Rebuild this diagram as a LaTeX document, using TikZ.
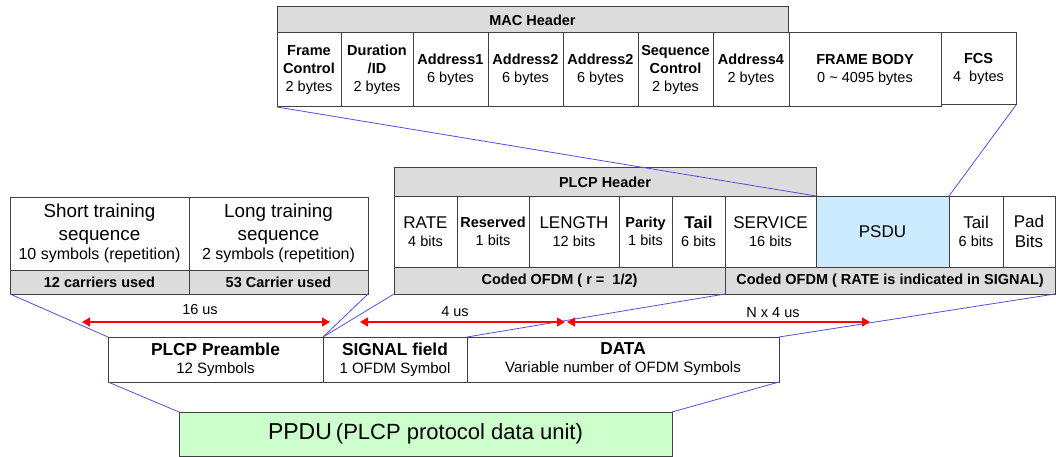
\documentclass[tikz,border=0pt]{standalone}
\usepackage{fontspec}
\setmainfont{Liberation Sans}
\usetikzlibrary{arrows.meta}
\definecolor{hdrgray}{HTML}{DCDCDC}
\definecolor{psdublue}{HTML}{CCEBFF}
\definecolor{ppdugreen}{HTML}{CCFFCC}
\definecolor{linkblue}{HTML}{5050E0}
\definecolor{edgegray}{HTML}{404040}
\begin{document}
\begin{tikzpicture}[x=1pt, y=-1pt, cell/.style = {draw=edgegray, line width=1, rectangle, anchor=north west, inner sep=0, outer sep=0, align=center, font=\fontsize{14.5}{18}\selectfont}, bar/.style = {cell, fill=hdrgray, font=\fontsize{14.5}{18}\selectfont\bfseries}, link/.style = {draw=linkblue, line width=0.8}, span/.style = {draw=red, line width=1.2, >={Triangle[length=8pt,width=9pt]}, <->}, timing/.style = {inner sep=0, font=\fontsize{14.5}{18}\selectfont}]
  \useasboundingbox (0,0) rectangle (1056,457);
  \node[bar, minimum width=511, minimum height=26] at (277,7) (mac-header) {MAC Header};
  \node[cell, minimum width=64, minimum height=74] at (277,33) (frame-control) {\textbf{Frame}\\\textbf{Control}\\2 bytes};
  \node[cell, minimum width=72, minimum height=74] at (341,33) (duration) {\textbf{Duration}\\\textbf{/ID}\\2 bytes};
  \node[cell, minimum width=75, minimum height=74] at (413,33) (address-1) {\textbf{Address1}\\6 bytes};
  \node[cell, minimum width=75, minimum height=74] at (488,33) (address-2) {\textbf{Address2}\\6 bytes};
  \node[cell, minimum width=75, minimum height=74] at (563,33) (address-3) {\textbf{Address2}\\6 bytes};
  \node[cell, minimum width=75, minimum height=74] at (638,33) (sequence) {\textbf{Sequence}\\\textbf{Control}\\2 bytes};
  \node[cell, minimum width=76, minimum height=74] at (713,33) (address-4) {\textbf{Address4}\\2 bytes};
  \node[cell, minimum width=152, minimum height=74] at (789,33) (frame-body) {\textbf{FRAME BODY}\\0 \textasciitilde{} 4095 bytes};
  \node[cell, minimum width=75, minimum height=72] at (941,33) (fcs) {\textbf{FCS}\\4~~bytes};
  \node[bar, minimum width=422, minimum height=28] at (394,168) (plcp-header) {PLCP Header};
  \node[cell, minimum width=63, minimum height=71] at (394,196) (rate) {{\fontsize{17}{20}\selectfont RATE}\\4 bits};
  \node[cell, minimum width=72, minimum height=71] at (457,196) (reserved) {\textbf{Reserved}\\1 bits};
  \node[cell, minimum width=90, minimum height=71] at (529,196) (length) {{\fontsize{17}{20}\selectfont LENGTH}\\12 bits};
  \node[cell, minimum width=53, minimum height=71] at (619,196) (parity) {\textbf{Parity}\\1 bits};
  \node[cell, minimum width=53, minimum height=71] at (672,196) (tail) {{\fontsize{17}{20}\selectfont\bfseries Tail}\\6 bits};
  \node[cell, minimum width=91, minimum height=71] at (725,196) (service) {{\fontsize{17}{20}\selectfont SERVICE}\\16 bits};
  \node[cell, fill=psdublue, minimum width=133, minimum height=71, font=\fontsize{17}{20}\selectfont] at (816,196) (psdu) {PSDU};
  \node[cell, minimum width=54, minimum height=71] at (949,196) (tail-2) {{\fontsize{17}{20}\selectfont Tail}\\6 bits};
  \node[cell, minimum width=52, minimum height=71, font=\fontsize{17}{20}\selectfont] at (1003,196) (pad) {Pad\\Bits};
  \node[bar, minimum width=331, minimum height=27] at (394,267) (coded-signal) {Coded OFDM ( r =~~1/2)};
  \node[bar, minimum width=330, minimum height=27] at (725,267) (coded-data) {Coded OFDM ( RATE is indicated in SIGNAL)};
  \node[cell, minimum width=179, minimum height=73, font=\fontsize{18.8}{23}\selectfont] at (10,197) (short) {Short training\\sequence\\[-4pt]{\fontsize{16}{18}\selectfont 10 symbols (repetition)}};
  \node[cell, minimum width=179, minimum height=73, font=\fontsize{18.8}{23}\selectfont] at (189,197) (long) {Long training\\sequence\\[-4pt]{\fontsize{16}{18}\selectfont 2 symbols (repetition)}};
  \node[bar, minimum width=179, minimum height=24] at (10,270) (carriers-12) {12 carriers used};
  \node[bar, minimum width=179, minimum height=24] at (189,270) (carriers-53) {53 Carrier used};
  \node[cell, minimum width=215, minimum height=45, font=\fontsize{15}{18}\selectfont] at (108,337) (preamble) {{\fontsize{17.3}{19}\selectfont\bfseries PLCP Preamble}\\12 Symbols};
  \node[cell, minimum width=144, minimum height=45, font=\fontsize{15}{18}\selectfont] at (323,337) (signal) {{\fontsize{17.3}{19}\selectfont\bfseries SIGNAL field}\\1 OFDM Symbol};
  \node[cell, minimum width=312, minimum height=45, font=\fontsize{15}{18}\selectfont] at (467,337) (data) {{\fontsize{17.3}{19}\selectfont\bfseries DATA}\\Variable number of OFDM Symbols};
  \node[cell, fill=ppdugreen, minimum width=493, minimum height=44] at (179,412) (ppdu) {{\fontsize{23}{26}\selectfont PPDU} {\fontsize{22}{26}\selectfont (PLCP protocol data unit)}};
  \draw[link] (frame-control.south west) -- (psdu.north west);
  \draw[link] (fcs.south east) -- (psdu.north east);
  \draw[link] (carriers-12.south west) -- (preamble.north west);
  \draw[link] (carriers-53.south east) -- (preamble.north east);
  \draw[link] (coded-signal.south west) -- (signal.north west);
  \draw[link] (coded-signal.south east) -- (signal.north east);
  \draw[link] (coded-data.south east) -- (data.north east);
  \draw[link] (preamble.south west) -- (ppdu.north west);
  \draw[link] (data.south east) -- (ppdu.north east);
  \coordinate (preamble-start) at (82,322);
  \coordinate (preamble-end) at (330,322);
  \coordinate (signal-start) at (360,322);
  \coordinate (signal-end) at (565,322);
  \coordinate (data-start) at (567,322);
  \coordinate (data-end) at (870,322);
  \draw[span] (preamble-start) -- (preamble-end);
  \draw[span] (signal-start) -- (signal-end);
  \draw[span] (data-start) -- (data-end);
  \node[timing] at (200,310) (time-preamble) {16 us};
  \node[timing] at (455,312) (time-signal) {4 us};
  \node[timing] at (773,313) (time-data) {N x 4 us};
\end{tikzpicture}
\end{document}
